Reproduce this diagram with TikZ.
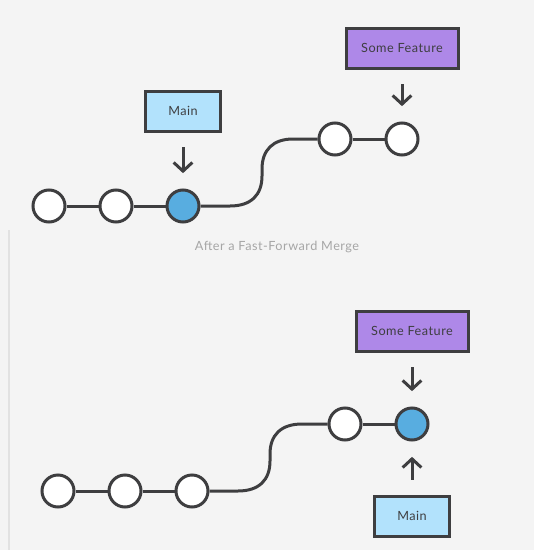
\documentclass[tikz,border=0pt]{standalone}
\usepackage{fontspec}
\setmainfont{Lato}[LetterSpace=4]
\usetikzlibrary{arrows.meta, positioning}
\definecolor{bggrey}{RGB}{244,244,244}
\definecolor{inkgrey}{RGB}{62,62,64}
\definecolor{mainblue}{RGB}{178,226,252}
\definecolor{headblue}{RGB}{88,173,224}
\definecolor{featpurple}{RGB}{174,136,232}
\definecolor{capgrey}{RGB}{166,166,166}
\definecolor{railgrey}{RGB}{226,226,226}

\begin{document}
\begin{tikzpicture}[x=0.75pt, y=-0.75pt,
  commit/.style={circle, fill=white, draw=inkgrey, line width=2.25pt, minimum size=24pt, inner sep=0pt},
  headcommit/.style={commit, fill=headblue},
  branchbox/.style={rectangle, draw=inkgrey, line width=2.25pt, minimum height=30pt, text=inkgrey, font=\fontsize{9.5}{11}\selectfont},
  link/.style={draw=inkgrey, line width=2.25pt},
  pointer/.style={-{Straight Barb[length=6.5pt, width=14pt]}, draw=inkgrey, line width=2.25pt, shorten <=11pt, shorten >=11.5pt}]

% Background
\fill[bggrey] (0,0) rectangle (534,550);
\useasboundingbox (0,0) rectangle (534,550);
\draw[railgrey, line width=1.5pt] (9,230) -- (9,550);

% Before the merge
\foreach \n/\x in {1/49, 2/116} \node[commit] (a\n) at (\x,206) {};
\node[headcommit] (a3) at (183,206) {};
\node[commit] (a4) at (335,139) {};
\node[commit] (a5) at (402,139) {};
\node[branchbox, minimum width=56pt, fill=mainblue] (amain) at (183,111) {Main};
\node[branchbox, minimum width=84pt, fill=featpurple] (afeat) at (402,48) {Some Feature};

\draw[link] (a1) -- (a2) (a2) -- (a3) (a4) -- (a5);
\draw[link] (a3) -- (230,206) .. controls (251,206) and (262,195) .. (262,176) -- (262,169) .. controls (262,150) and (273,139) .. (293,139) -- (a4);
\draw[pointer] (amain) -- (a3);
\draw[pointer] (afeat) -- (a5);

\node[text=capgrey, font=\fontsize{9.5}{11}\selectfont] (caption) at (277,247) {After a Fast-Forward Merge};

% After the merge
\foreach \n/\x in {1/58, 2/125, 3/192} \node[commit] (b\n) at (\x,491) {};
\node[commit] (b4) at (345,424) {};
\node[headcommit] (b5) at (412,424) {};
\node[branchbox, minimum width=84pt, fill=featpurple] (bfeat) at (412,331) {Some Feature};
\node[branchbox, minimum width=56pt, fill=mainblue] (bmain) at (412,516) {Main};

\draw[link] (b1) -- (b2) (b2) -- (b3) (b4) -- (b5);
\draw[link] (b3) -- (238,491) .. controls (259,491) and (270,480) .. (270,461) -- (270,454) .. controls (270,435) and (281,424) .. (302,424) -- (b4);
\draw[pointer] (bfeat) -- (b5);
\draw[pointer] (bmain) -- (b5);
\end{tikzpicture}
\end{document}
